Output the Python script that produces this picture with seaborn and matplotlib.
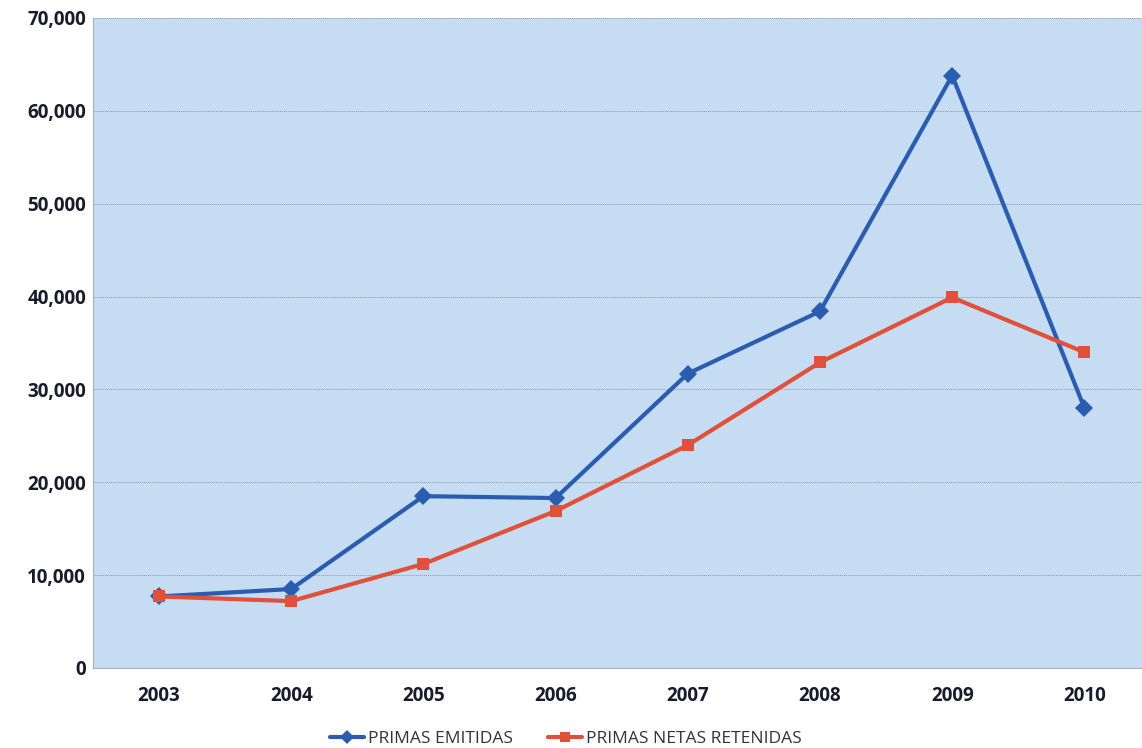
import pandas as pd
import matplotlib
matplotlib.use('Agg')
import matplotlib.pyplot as plt
import seaborn as sns

years = ['2003', '2004', '2005', '2006', '2007', '2008', '2009', '2010']
primas_emitidas = [7700, 8500, 18500, 18300, 31700, 38400, 63800, 28000]
primas_netas_retenidas = [7700, 7200, 11200, 16900, 24000, 32900, 39900, 34000]
y_ticks = [0, 10000, 20000, 30000, 40000, 50000, 60000, 70000]

df = pd.DataFrame({
    'pos': list(range(len(years))) * 2,
    'valor': primas_emitidas + primas_netas_retenidas,
    'serie': ['PRIMAS EMITIDAS'] * len(years) + ['PRIMAS NETAS RETENIDAS'] * len(years),
})

sns.set_style('white')
plt.rcParams['font.family'] = ['Open Sans', 'DejaVu Sans']

fig = plt.figure(figsize=(11.42, 7.48), dpi=100)
ax = fig.add_axes([0.0814, 0.107, 0.926, 0.869])
ax.set_facecolor('#c6dcf2')

sns.lineplot(data=df, x='pos', y='valor', hue='serie', style='serie',
             palette={'PRIMAS EMITIDAS': '#2a5db0', 'PRIMAS NETAS RETENIDAS': '#e0503a'},
             markers={'PRIMAS EMITIDAS': 'D', 'PRIMAS NETAS RETENIDAS': 's'},
             dashes=False, linewidth=3, markersize=9, markeredgewidth=0,
             ax=ax, zorder=3)

ax.set_xlim(-0.5, 7.5)
ax.set_ylim(0, 70000)
ax.set_xticks(range(len(years)))
ax.set_xticklabels(years)
ax.set_yticks(y_ticks)
ax.set_yticklabels([f'{v:,}' for v in y_ticks])
ax.yaxis.grid(True, color='#9096a0', linestyle=(0, (1, 1)), linewidth=0.7)
ax.set_axisbelow(True)
ax.tick_params(axis='both', length=0, labelsize=13.5)
ax.tick_params(axis='x', pad=13)
ax.tick_params(axis='y', pad=5)
for lab in ax.get_xticklabels() + ax.get_yticklabels():
    lab.set_fontweight('bold')
    lab.set_color('#1a1a2a')
ax.set_xlabel('')
ax.set_ylabel('')
for side in ['top', 'right']:
    ax.spines[side].set_visible(False)
for side in ['left', 'bottom']:
    ax.spines[side].set_color('#aab0b8')
    ax.spines[side].set_linestyle((0, (1, 1)))
    ax.spines[side].set_linewidth(0.8)

handles, labels = ax.get_legend_handles_labels()
ax.legend(handles, labels, loc='lower center', bbox_to_anchor=(0.447, -0.145),
          ncol=2, frameon=False, fontsize=12.5, handlelength=2.0, handletextpad=0.2,
          columnspacing=2.0, labelcolor='#333333', markerscale=0.75)

fig.savefig('out.png', dpi=100)
